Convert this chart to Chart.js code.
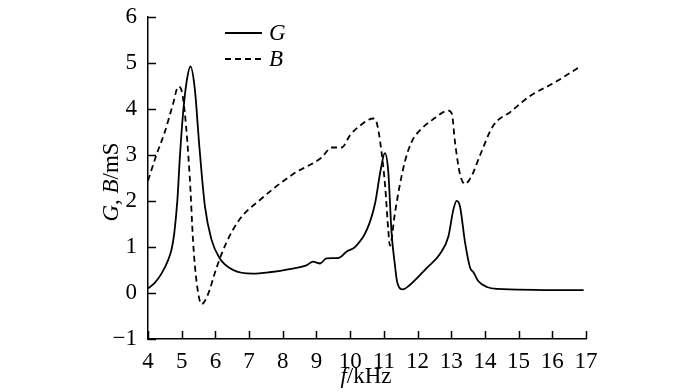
<!DOCTYPE html>
<html>
<head>
<meta charset="utf-8">
<script src="https://cdn.jsdelivr.net/npm/chart.js@4.4.0/dist/chart.umd.min.js"></script>
<style>
  html, body { margin: 0; padding: 0; background: #fff; }
</style>
</head>
<body>
<canvas id="chart" width="700" height="392"></canvas>
<script>
// G (conductance) curve
const gFreq = [4.0, 4.2, 4.4, 4.6, 4.7, 4.78, 4.87, 4.95, 5.04, 5.14, 5.26, 5.39, 5.52, 5.69, 5.88, 6.13,
    6.53, 7.1, 7.6, 8.2, 8.7, 8.9, 9.0, 9.1, 9.3, 9.65, 9.9, 10.15, 10.5, 10.74, 10.9, 11.03,
    11.13, 11.23, 11.33, 11.4, 11.56, 11.78, 12.27, 12.67, 12.92, 13.06, 13.16, 13.26, 13.41, 13.56,
    13.66, 13.8, 14.06, 14.35, 16.93];
const gValues = [0.1, 0.22, 0.42, 0.72, 0.95, 1.3, 2.0, 3.0, 3.9, 4.56, 4.92, 4.43, 3.22, 1.88, 1.17, 0.75,
    0.5, 0.42, 0.45, 0.52, 0.6, 0.68, 0.66, 0.64, 0.75, 0.76, 0.9, 1.0, 1.38, 1.95, 2.65, 3.04,
    2.65, 1.3, 0.6, 0.22, 0.08, 0.18, 0.54, 0.85, 1.24, 1.8, 2.0, 1.88, 1.1, 0.55,
    0.45, 0.26, 0.13, 0.09, 0.06];

// B (susceptance) curve
const bFreq = [4.0, 4.25, 4.5, 4.74, 4.9, 4.97, 5.09, 5.24, 5.34, 5.44, 5.59, 5.78, 6.03, 6.33, 6.72, 7.32,
    8.3, 9.15, 9.45, 9.75, 10.0, 10.3, 10.69, 10.78, 10.89, 11.04, 11.13, 11.18, 11.33, 11.48, 11.63,
    11.83, 12.12, 12.42, 12.92, 13.02, 13.11, 13.26, 13.41, 13.61, 13.86, 14.25, 14.75, 15.34, 16.04, 16.85];
const bValues = [2.44, 3.0, 3.5, 4.1, 4.48, 4.45, 3.93, 2.51, 1.1, 0.25, -0.24, -0.03, 0.54, 1.1, 1.6, 2.02,
    2.58, 2.94, 3.16, 3.16, 3.43, 3.64, 3.79, 3.72, 3.29, 2.31, 1.38, 1.03, 1.74, 2.37, 2.87,
    3.29, 3.57, 3.75, 3.96, 3.89, 3.29, 2.58, 2.37, 2.55, 3.0, 3.64, 3.93, 4.28, 4.56, 4.93];

const xTicks = [4, 5, 6, 7, 8, 9, 10, 11, 12, 13, 14, 15, 16, 17];
const yTicks = [-1, 0, 1, 2, 3, 4, 5, 6];

const serif = '"Liberation Serif", "Times New Roman", Times, serif';

function toPoints(xs, ys) {
    return xs.map(function (x, i) { return { x: x, y: ys[i] }; });
}

// draws text made of plain / italic pieces, centred on (cx, cy)
function drawRich(ctx, parts, cx, cy, size) {
    let total = 0;
    parts.forEach(function (p) {
        ctx.font = (p.italic ? 'italic ' : '') + size + 'px ' + serif;
        p.w = ctx.measureText(p.text).width;
        total += p.w;
    });
    let x = cx - total / 2;
    ctx.textAlign = 'left';
    ctx.textBaseline = 'middle';
    parts.forEach(function (p) {
        ctx.font = (p.italic ? 'italic ' : '') + size + 'px ' + serif;
        ctx.fillText(p.text, x, cy);
        x += p.w;
    });
}

const decorations = {
    id: 'decorations',
    afterDraw(chart) {
        const ctx = chart.ctx;
        const xs = chart.scales.x;
        const ys = chart.scales.y;
        const area = chart.chartArea;
        ctx.save();
        ctx.strokeStyle = '#000';
        ctx.fillStyle = '#000';
        ctx.lineWidth = 1.5;

        // tick marks pointing into the plot
        ctx.beginPath();
        xs.ticks.forEach(function (t) {
            const px = Math.round(xs.getPixelForValue(t.value)) + 0.5;
            ctx.moveTo(px, area.bottom);
            ctx.lineTo(px, area.bottom - 8);
        });
        ys.ticks.forEach(function (t) {
            const py = Math.round(ys.getPixelForValue(t.value)) + 0.5;
            ctx.moveTo(area.left, py);
            ctx.lineTo(area.left + 8, py);
        });
        ctx.stroke();

        // legend
        chart.data.datasets.forEach(function (ds, i) {
            const ly = 33 + i * 26;
            ctx.beginPath();
            ctx.lineWidth = ds.borderWidth;
            ctx.setLineDash(ds.borderDash || []);
            ctx.moveTo(225, ly);
            ctx.lineTo(262, ly);
            ctx.stroke();
            ctx.setLineDash([]);
            ctx.font = 'italic 23px ' + serif;
            ctx.textAlign = 'left';
            ctx.textBaseline = 'middle';
            ctx.fillText(ds.label, 269, ly + 1);
        });

        // axis titles
        drawRich(ctx, [{ text: 'f', italic: true }, { text: '/kHz' }], 366, 377, 23);
        ctx.save();
        ctx.translate(112, 182);
        ctx.rotate(-Math.PI / 2);
        drawRich(ctx, [{ text: 'G', italic: true }, { text: ', ' }, { text: 'B', italic: true }, { text: '/mS' }], 0, 0, 23);
        ctx.restore();

        ctx.restore();
    }
};

function drawChart() {
    new Chart(document.getElementById('chart'), {
        type: 'line',
        data: {
            datasets: [
                {
                    label: 'G',
                    data: toPoints(gFreq, gValues),
                    borderColor: '#000',
                    borderWidth: 1.8,
                    pointRadius: 0,
                    cubicInterpolationMode: 'monotone',
                    fill: false
                },
                {
                    label: 'B',
                    data: toPoints(bFreq, bValues),
                    borderColor: '#000',
                    borderWidth: 1.8,
                    borderDash: [6, 4],
                    pointRadius: 0,
                    cubicInterpolationMode: 'monotone',
                    fill: false
                }
            ]
        },
        options: {
            responsive: false,
            animation: false,
            layout: { padding: { top: 6, right: 114, left: 0, bottom: 0 } },
            plugins: {
                legend: { display: false },
                tooltip: { enabled: false }
            },
            scales: {
                x: {
                    type: 'linear',
                    min: 4,
                    max: 17,
                    grid: { display: false },
                    border: { display: true, color: '#000', width: 1.5 },
                    afterBuildTicks: function (s) { s.ticks = xTicks.map(function (v) { return { value: v }; }); },
                    afterFit: function (s) { s.height = 53; },
                    ticks: {
                        color: '#000',
                        padding: 1,
                        maxRotation: 0,
                        autoSkip: false,
                        font: { family: serif, size: 23 }
                    }
                },
                y: {
                    min: -1,
                    max: 6,
                    grid: { display: false },
                    border: { display: true, color: '#000', width: 1.5 },
                    afterBuildTicks: function (s) { s.ticks = yTicks.map(function (v) { return { value: v }; }); },
                    afterFit: function (s) { s.width = 148; },
                    ticks: {
                        color: '#000',
                        padding: 3,
                        autoSkip: false,
                        font: { family: serif, size: 23 },
                        callback: function (v) { return String(v).replace('-', '\u2212'); }
                    }
                }
            }
        },
        plugins: [decorations]
    });
}

Promise.all([
    document.fonts.load('23px "Liberation Serif"'),
    document.fonts.load('italic 23px "Liberation Serif"')
]).then(drawChart, drawChart);
</script>
</body>
</html>
